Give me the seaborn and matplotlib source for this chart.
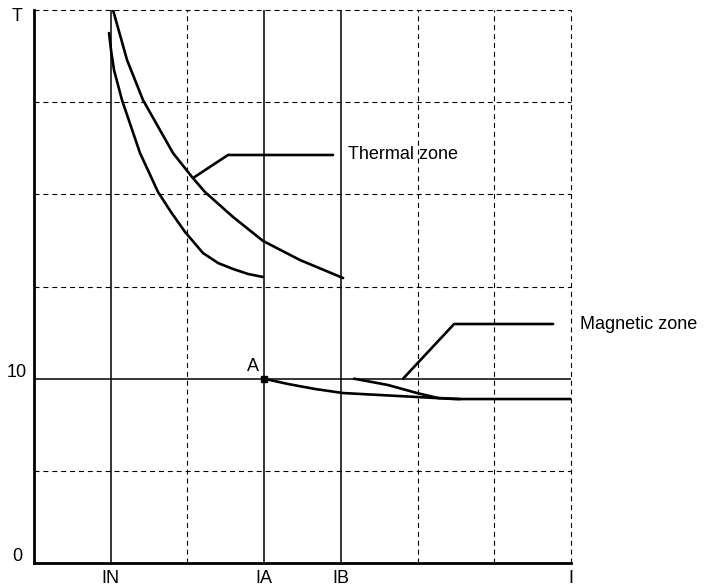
import numpy as np
import pandas as pd
import matplotlib
matplotlib.use("Agg")
import matplotlib.pyplot as plt
import seaborn as sns

# grid units: x = current steps, y = time steps
x_ticks = [1, 3, 4, 7]
x_labels = ["IN", "IA", "IB", "I"]
y_ticks = [0, 2, 6]
y_labels = ["0", "10", "T"]
solid_x = [1, 3, 4]
dashed_x = [2, 5, 6, 7]
dashed_y = [1, 3, 4, 5, 6]
solid_y = [2]

# thermal curves
thermal_low_x = [0.978, 1.004, 1.043, 1.147, 1.382, 1.617, 1.786, 1.969, 2.203, 2.399, 2.595, 2.790, 2.986]
thermal_low_y = [5.750, 5.565, 5.349, 5.023, 4.448, 4.025, 3.808, 3.591, 3.363, 3.255, 3.190, 3.136, 3.103]
thermal_high_x = [1.030, 1.213, 1.421, 1.812, 2.060, 2.229, 2.595, 2.986, 3.468, 4.029]
thermal_high_y = [6.000, 5.457, 5.023, 4.448, 4.188, 4.025, 3.754, 3.494, 3.287, 3.092]

# magnetic curves
mag_low_x = [3.000, 3.312, 3.664, 4.029, 4.993, 5.489, 7.000]
mag_low_y = [2.000, 1.942, 1.888, 1.844, 1.801, 1.779, 1.779]
mag_high_x = [4.172, 4.615, 4.993, 5.267, 5.554]
mag_high_y = [2.000, 1.931, 1.844, 1.790, 1.779]

# leader lines to labels
thermal_lead_x = [2.073, 2.529, 3.898]
thermal_lead_y = [4.177, 4.427, 4.427]
mag_lead_x = [4.811, 5.476, 6.767]
mag_lead_y = [2.000, 2.593, 2.593]

point_a = (3.0, 2.0)

sns.set_style("white")
plt.rcParams['font.family'] = ['Liberation Sans', 'DejaVu Sans']
plt.rcParams['text.color'] = 'black'
plt.rcParams['xtick.color'] = 'black'
plt.rcParams['ytick.color'] = 'black'

fig = plt.figure(figsize=(7.07, 5.87), dpi=100)
ax = fig.add_axes([34 / 707, 24 / 587, (571 - 34) / 707, (563 - 10) / 587])
ax.set_xlim(0, 7)
ax.set_ylim(0, 6)

dash = (0, (4.5, 3.5))
for xv in solid_x:
    ax.axvline(xv, color="black", lw=1.1, zorder=1)
for xv in dashed_x:
    ax.axvline(xv, color="black", lw=0.8, ls=dash, zorder=1, clip_on=False)
for yv in dashed_y:
    ax.axhline(yv, color="black", lw=0.8, ls=dash, zorder=1, clip_on=False)
for yv in solid_y:
    ax.axhline(yv, color="black", lw=1.1, zorder=1)

curves = [
    (thermal_low_x, thermal_low_y),
    (thermal_high_x, thermal_high_y),
    (mag_low_x, mag_low_y),
    (mag_high_x, mag_high_y),
]
for cx, cy in curves:
    df = pd.DataFrame({"x": cx, "y": cy})
    sns.lineplot(data=df, x="x", y="y", ax=ax, color="black", lw=1.9,
                 sort=False, estimator=None, zorder=3)

for lx, ly in [(thermal_lead_x, thermal_lead_y), (mag_lead_x, mag_lead_y)]:
    ax.plot(lx, ly, color="black", lw=1.9, zorder=3, clip_on=False)

fs = 13
ax.plot(*point_a, marker="s", color="black", ms=4.5, zorder=4)
ax.text(point_a[0] - 0.07, point_a[1] + 0.04, "A", ha="right", va="bottom", fontsize=fs)
ax.text(4.09, 4.427, "Thermal zone", ha="left", va="center", fontsize=fs)
ax.text(7.12, 2.593, "Magnetic zone", ha="left", va="center", fontsize=fs, clip_on=False)

ax.set_xticks(x_ticks)
ax.set_xticklabels(x_labels, fontsize=fs)
ax.tick_params(axis="x", length=0, pad=5)
ax.set_yticks([])
# y labels sit slightly off their lines in the original
y_shift = {"0": 0.07, "10": 0.07, "T": -0.07}
for yv, lab in zip(y_ticks, y_labels):
    ax.text(-17 / 76.7, yv + y_shift[lab], lab, ha="center", va="center",
            fontsize=fs, clip_on=False)
ax.set_xlabel("")
ax.set_ylabel("")

for side in ["top", "right"]:
    ax.spines[side].set_visible(False)
for side in ["left", "bottom"]:
    ax.spines[side].set_linewidth(2.0)
    ax.spines[side].set_color("black")
    ax.spines[side].set_zorder(5)

fig.savefig("out.png", dpi=100)
